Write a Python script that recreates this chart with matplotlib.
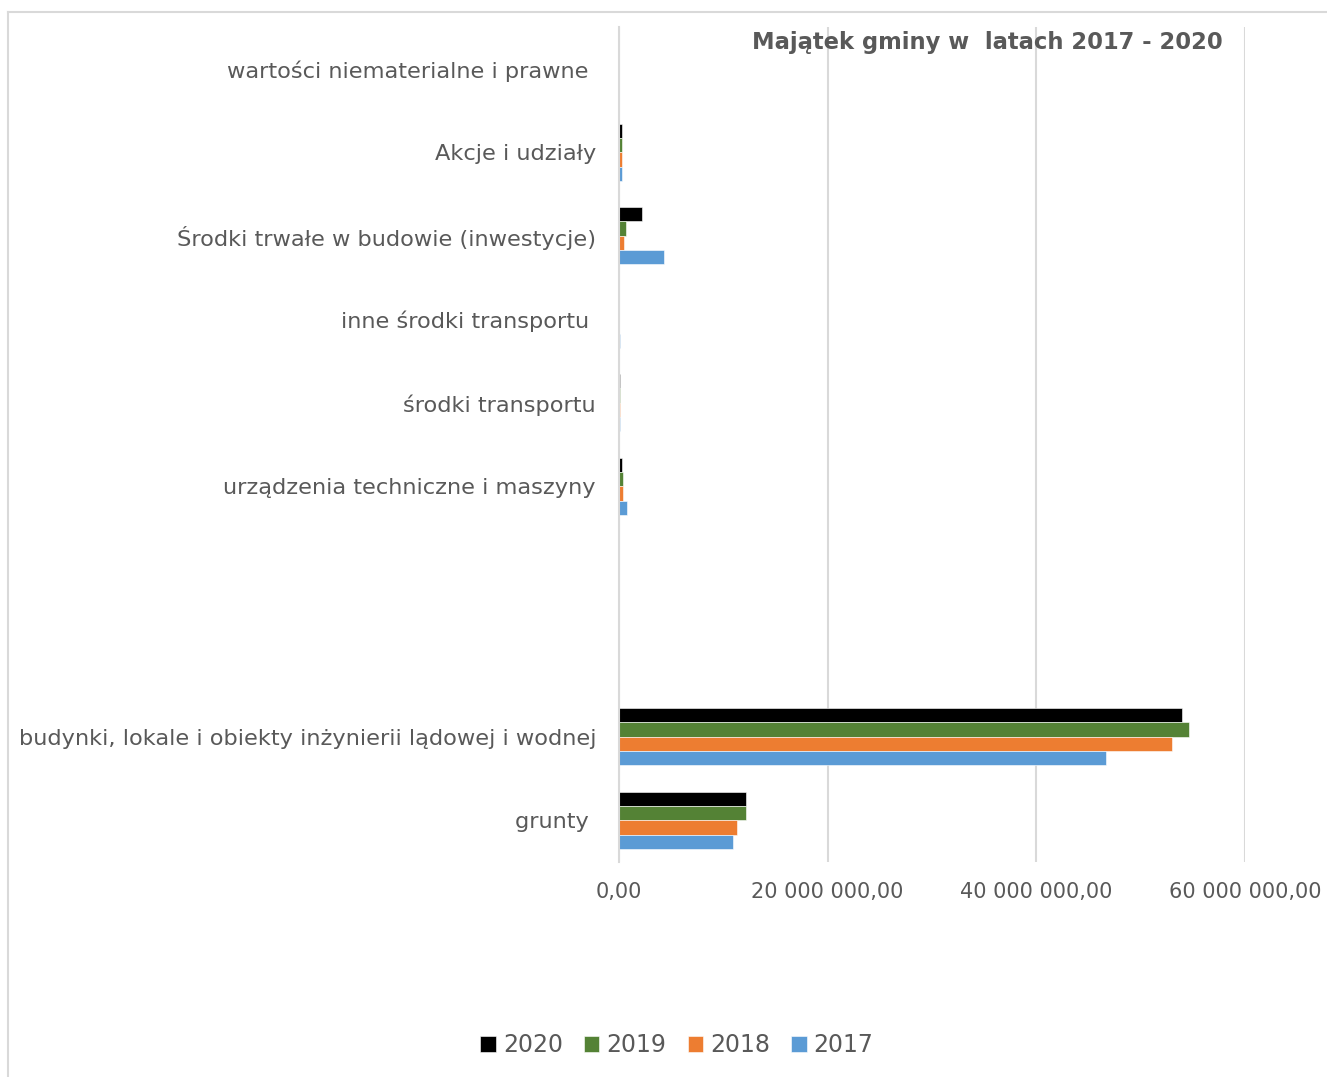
import numpy as np
import matplotlib
matplotlib.use("Agg")
import matplotlib.pyplot as plt
from matplotlib.lines import Line2D
from matplotlib.ticker import FuncFormatter

plt.rcParams["font.family"] = ["DejaVu Sans"]

# categories from bottom to top (two empty slots in the original)
categories = [
    "grunty ",
    "budynki, lokale i obiekty inżynierii lądowej i wodnej",
    "",
    "",
    "urządzenia techniczne i maszyny",
    "środki transportu",
    "inne środki transportu ",
    "Środki trwałe w budowie (inwestycje)",
    "Akcje i udziały",
    "wartości niematerialne i prawne ",
]

years = ["2020", "2019", "2018", "2017"]
v2020 = [12200000, 53950000, 0, 0, 300000, 60000, 30000, 2250000, 300000, 0]
v2019 = [12200000, 54600000, 0, 0, 380000, 80000, 30000, 650000, 300000, 0]
v2018 = [11300000, 53000000, 0, 0, 400000, 120000, 40000, 480000, 320000, 0]
v2017 = [10900000, 46700000, 0, 0, 800000, 120000, 60000, 4300000, 320000, 0]
colors = ["#000000", "#548235", "#ED7D31", "#5B9BD5"]

text_color = "#595959"
grid_color = "#D9D9D9"

fig = plt.figure(figsize=(13.27, 10.77), dpi=100)
ax = fig.add_axes([619 / 1327, 1 - 862 / 1077, 626 / 1327, 835 / 1077])

y = np.arange(len(categories))
h = 0.171
series = [v2020, v2019, v2018, v2017]
for i, (vals, yr, col) in enumerate(zip(series, years, colors)):
    offset = (1.5 - i) * h
    ax.barh(y + offset, vals, height=h, color=col, label=yr,
            edgecolor="white", linewidth=0.4)

ax.set_xlim(0, 60000000)
ax.set_ylim(-0.5, len(categories) - 0.5)
ax.set_xticks([0, 20000000, 40000000, 60000000])
ax.xaxis.set_major_formatter(FuncFormatter(
    lambda v, p: f"{v:,.2f}".replace(",", " ").replace(".", ",")))
ax.set_yticks(y)
ax.set_yticklabels(categories)
ax.tick_params(axis="y", length=0, pad=16.5, labelsize=16.2, labelcolor=text_color)
ax.tick_params(axis="x", length=0, pad=14.5, labelsize=15, labelcolor=text_color)
ax.grid(axis="x", color=grid_color, linewidth=1.5)
ax.set_axisbelow(True)
for s in ["top", "right", "bottom"]:
    ax.spines[s].set_visible(False)
ax.spines["left"].set_color(grid_color)
ax.spines["left"].set_linewidth(1.5)

fig.text(987 / 1327, 1 - 42 / 1077, "Majątek gminy w  latach 2017 - 2020",
         ha="center", va="center", fontsize=16.3, fontweight="bold", color=text_color)

handles, labels = ax.get_legend_handles_labels()
fig.legend(handles, labels, loc="center", bbox_to_anchor=(677 / 1327, 1 - 1045 / 1077),
           ncol=4, frameon=False, fontsize=17, labelcolor=text_color,
           handlelength=0.65, handleheight=0.65, handletextpad=0.3, columnspacing=0.9)

# chart frame (left and top edges visible)
x0 = 8 / 1327
y0 = 1 - 12 / 1077
fig.add_artist(Line2D([x0, 1], [y0, y0], transform=fig.transFigure,
                      color=grid_color, linewidth=1.5))
fig.add_artist(Line2D([x0, x0], [0, y0], transform=fig.transFigure,
                      color=grid_color, linewidth=1.5))

fig.savefig("out.png", dpi=100)
